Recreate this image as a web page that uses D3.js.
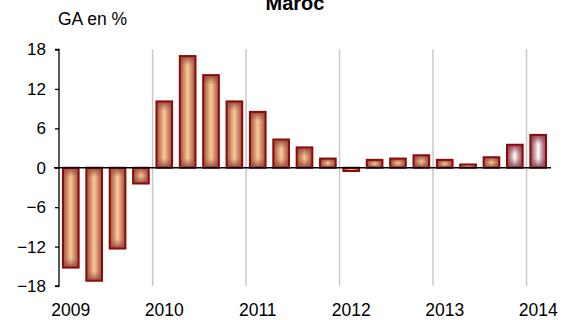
<!DOCTYPE html>
<html>
<head>
<meta charset="utf-8">
<script src="https://cdn.jsdelivr.net/npm/d3@7"></script>
<style>
  html, body { margin: 0; padding: 0; background: #fff; }
  svg { display: block; font-family: "Liberation Sans", Arial, sans-serif; }
</style>
</head>
<body>
<svg id="chart" width="573" height="320"></svg>
<script>
// Data
const quarters = ["2009T1","2009T2","2009T3","2009T4","2010T1","2010T2","2010T3","2010T4",
  "2011T1","2011T2","2011T3","2011T4","2012T1","2012T2","2012T3","2012T4",
  "2013T1","2013T2","2013T3","2013T4","2014T1"];
const values = [-15.2, -17.2, -12.3, -2.4, 10.1, 17.0, 14.1, 10.1,
  8.5, 4.3, 3.1, 1.4, -0.5, 1.2, 1.4, 1.9,
  1.2, 0.5, 1.6, 3.5, 5.0];
const forecast = [false,false,false,false,false,false,false,false,
  false,false,false,false,false,false,false,false,
  false,false,false,true,true];
const yearLabels = ["2009","2010","2011","2012","2013","2014"];
const yTicks = [-18, -12, -6, 0, 6, 12, 18];
const title = "Maroc";
const yTitle = "GA en %";

const svg = d3.select("#chart");
const defs = svg.append("defs");

const palettes = {
  cu: {edge: "#9a4a3c", mid: "#cf8a68", center: "#f8cb98"},
  fc: {edge: "#8e3f4e", mid: "#c8949c", center: "#ffffff"}
};
// Horizontal base gradients
Object.entries(palettes).forEach(([k, c]) => {
  const g = defs.append("linearGradient").attr("id", "h-" + k)
    .attr("x1", 0).attr("x2", 1).attr("y1", 0).attr("y2", 0);
  [[0, c.edge], [0.25, c.mid], [0.5, c.center], [0.75, c.mid], [1, c.edge]]
    .forEach(([o, col]) => g.append("stop").attr("offset", o).attr("stop-color", col));
});

const x = d3.scaleBand().domain(quarters).range([59, 550]).paddingInner(0.33).paddingOuter(0.17);
const y = d3.scaleLinear().domain([-18, 18]).range([286, 49.5]);

// Vertical year gridlines (between T4 and T1)
const gridYears = yearLabels.slice(1);
svg.append("g").selectAll("line").data(gridYears).join("line")
  .attr("x1", d => x(d + "T1") - x.step() * x.paddingInner() / 2)
  .attr("x2", d => x(d + "T1") - x.step() * x.paddingInner() / 2)
  .attr("y1", y(18)).attr("y2", y(-18))
  .attr("stroke", "#c8c8c8").attr("stroke-width", 1.5);

// Bars
const bars = svg.append("g").selectAll("g").data(quarters).join("g");
bars.each(function(q, i) {
  const v = values[i];
  const x0 = x(q), w = x.bandwidth();
  const yt = y(Math.max(0, v)), yb = y(Math.min(0, v));
  const h = Math.max(0.5, yb - yt);
  const k = forecast[i] ? "fc" : "cu";
  const c = palettes[k];
  const g = d3.select(this);
  // base horizontal shading
  g.append("rect").attr("x", x0).attr("y", yt).attr("width", w).attr("height", h)
    .attr("fill", `url(#h-${k})`);
  // vertical end shading overlay
  const d = Math.min(w * 0.6, h / 2);
  const f = d / h;
  const gid = "v" + i;
  const vg = defs.append("linearGradient").attr("id", gid)
    .attr("x1", 0).attr("x2", 0).attr("y1", 0).attr("y2", 1);
  [[0, 1], [f * 0.5, 0.45], [f, 0], [1 - f, 0], [1 - f * 0.5, 0.45], [1, 1]]
    .forEach(([o, a]) => vg.append("stop").attr("offset", o)
      .attr("stop-color", c.edge).attr("stop-opacity", a));
  g.append("rect").attr("x", x0).attr("y", yt).attr("width", w).attr("height", h)
    .attr("fill", `url(#${gid})`);
  // border
  g.append("rect").attr("x", x0).attr("y", yt).attr("width", w).attr("height", h)
    .attr("fill", "none").attr("stroke", "#8c0a0a").attr("stroke-width", 2);
});

// Zero line
svg.append("line")
  .attr("x1", 54).attr("x2", 551)
  .attr("y1", y(0)).attr("y2", y(0))
  .attr("stroke", "#000").attr("stroke-width", 1.3);

// Y axis
const yAxis = d3.axisLeft(y).tickValues(yTicks).tickSize(4).tickPadding(9).tickFormat(d3.format("d"));
const ya = svg.append("g").attr("transform", "translate(59,0)").call(yAxis);
ya.select(".domain").attr("stroke", "#000").attr("stroke-width", 1.3).attr("d", `M-4,${y(18)}H0V${y(-18)}H-4`);
ya.selectAll(".tick line").attr("stroke", "#000").attr("stroke-width", 1.3);
ya.selectAll(".tick text").attr("font-size", 17).attr("fill", "#000")
  .attr("font-family", "'Liberation Sans', Arial, sans-serif");

// X year labels at T1 bar centers
svg.append("g").selectAll("text").data(yearLabels).join("text")
  .attr("x", d => x(d + "T1") + x.bandwidth() / 2)
  .attr("y", 315.5)
  .attr("text-anchor", "middle")
  .attr("font-size", 17.5)
  .text(d => d);

// Titles
svg.append("text").attr("x", 295).attr("y", 10).attr("text-anchor", "middle")
  .attr("font-size", 20).attr("font-weight", "bold").text(title);
svg.append("text").attr("x", 58).attr("y", 25).attr("font-size", 17.5).text(yTitle);
</script>
</body>
</html>
